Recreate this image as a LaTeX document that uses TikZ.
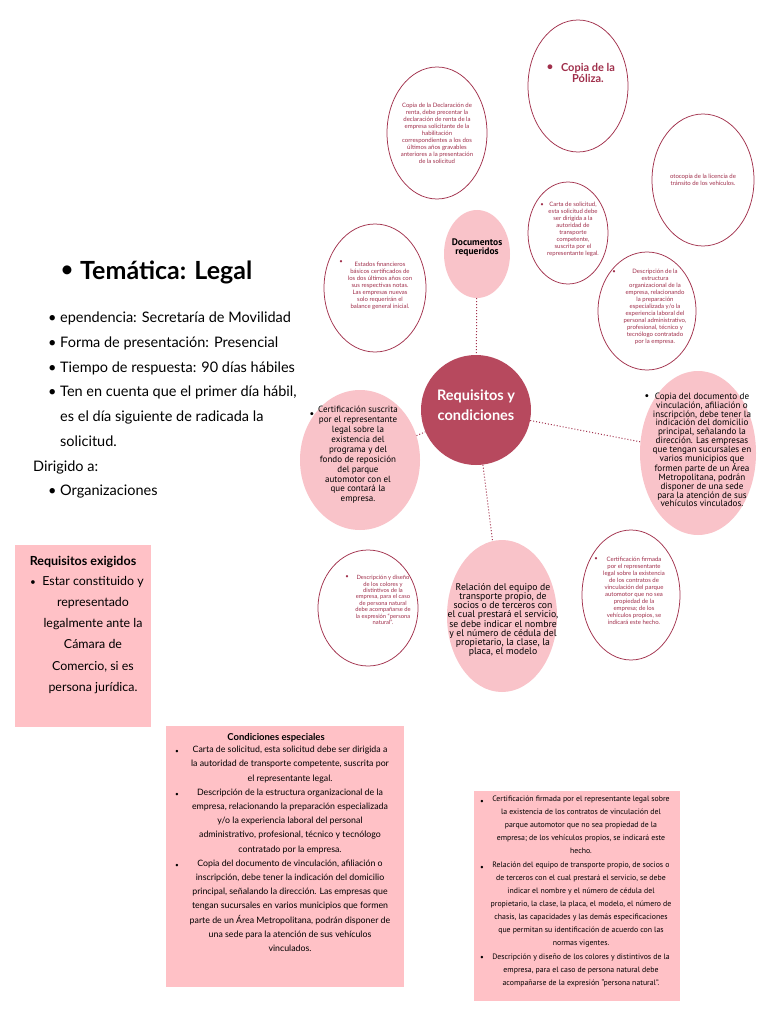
\documentclass[tikz,border=0pt]{standalone}
\usepackage{fontspec}
\setmainfont{Lato}
\newfontfamily\narrowf{PT Sans}
\usetikzlibrary{shapes.geometric}
\definecolor{rosedark}{HTML}{B7495E}
\definecolor{pinkfill}{HTML}{F9C3C9}
\definecolor{boxfill}{HTML}{FFC1C6}
\definecolor{lineR}{HTML}{A2324D}
\definecolor{txtR}{HTML}{A02F4B}
\newcommand\fsz[2]{\fontsize{#1}{#2}\selectfont}
\begin{document}
\begin{tikzpicture}[x=1pt,y=-1pt,
  outl/.style={ellipse,draw=lineR,line width=0.75pt,inner sep=0pt},
  fil/.style={ellipse,fill=pinkfill,inner sep=0pt},
  conn/.style={draw=lineR,line width=1pt,dotted},
  tinytxt/.style={text=txtR,align=center,inner sep=0pt,font=\fsz{6}{7}},
  tinybul/.style={text=txtR,inner sep=0pt,font=\fsz{6}{7}},
  midtxt/.style={text=black,align=center,inner sep=0pt,font=\narrowf\fsz{9.6}{9.6}},
  boxtxt/.style={align=center,inner sep=0pt},
  smallbul/.style={inner sep=0pt,font=\fsz{6.5}{7}},
  bigbox/.style={fill=boxfill,draw=none}
]
\useasboundingbox (0,0) rectangle (768,1024);
\fill[white] (0,0) rectangle (768,1024);

% ---------- ellipses ----------
\node[outl,minimum width=100pt,minimum height=132pt] (pol) at (578,86) {};
\node[outl,minimum width=100pt,minimum height=132pt] (dec) at (437,133) {};
\node[outl,minimum width=102pt,minimum height=132pt] (oto) at (703,180) {};
\node[outl,minimum width=80pt,minimum height=102pt] (car) at (568,233) {};
\node[fil,minimum width=66pt,minimum height=88pt] (doc) at (477,254) {};
\node[outl,minimum width=102pt,minimum height=128pt] (est) at (375,288) {};
\node[outl,minimum width=98pt,minimum height=118pt] (des) at (647,311) {};
\node[circle,fill=rosedark,minimum size=110pt,inner sep=0pt] (req) at (476,410) {};
\node[fil,minimum width=120pt,minimum height=140pt] (cs) at (360,460) {};
\node[fil,minimum width=116pt,minimum height=164pt] (cd) at (698,453) {};
\node[outl,minimum width=100pt,minimum height=116pt] (dis) at (368,608) {};
\node[fil,minimum width=110pt,minimum height=152pt] (rel) at (502,616) {};
\node[outl,minimum width=98pt,minimum height=130pt] (cf) at (631,595) {};

% ---------- connectors ----------
\draw[conn] (doc) -- (req);
\draw[conn] (cs) -- (req);
\draw[conn] (req) -- (rel);
\draw[conn] (req) -- (cd);

% ---------- ellipse texts ----------
\node[text=txtR,inner sep=0pt,font=\fsz{11}{11}\bfseries] (polb) at (550,68) {•};
\node[text=txtR,align=center,inner sep=0pt,font=\fsz{11}{11}\bfseries] (polt) at (588,73) {Copia de la\\Póliza.};

\node[tinytxt] (dect) at (437,133) {Copia de la Declaración de\\renta, debe precentar la\\declaración de renta de la\\empresa solicitante de la\\habilitación\\correspondientes a los dos\\últimos años gravables\\anteriores a la presentación\\de la solicitud};

\node[tinytxt] (otot) at (703,180) {otocopia de la licencia de\\tránsito de los vehículos.};

\node[tinybul] (carb) at (542,205) {•};
\node[tinytxt] (cart) at (573,229) {Carta de solicitud,\\esta solicitud debe\\ser dirigida a la\\autoridad de\\transporte\\competente,\\suscrita por el\\representante legal.};

\node[align=center,inner sep=0pt,font=\narrowf\bfseries\fsz{9.5}{9}] (doct) at (477,248) {Documentos\\requeridos};

\node[tinybul] (estb) at (341,262) {•};
\node[tinytxt] (estt) at (380,286) {Estados financieros\\básicos certificados de\\los dos últimos años con\\sus respectivas notas.\\Las empresas nuevas\\solo requerirán el\\balance general inicial.};

\node[tinybul] (desb) at (614,272) {•};
\node[tinytxt] (dest) at (655,307) {Descripción de la\\estructura\\organizacional de la\\empresa, relacionando\\la preparación\\especializada y/o la\\experiencia laboral del\\personal administrativo,\\profesional, técnico y\\tecnólogo contratado\\por la empresa.};

\node[text=white,align=center,inner sep=0pt,font=\bfseries\fsz{14.5}{20}] (reqt) at (476,405) {Requisitos y\\condiciones};

\node[inner sep=0pt,font=\fsz{8}{8}] (csb) at (312,415) {•};
\node[midtxt,font=\narrowf\fsz{9}{9.9}] (cst) at (358,455) {Certificación suscrita\\por el representante\\legal sobre la\\existencia del\\programa y del\\fondo de reposición\\del parque\\automotor con el\\que contará la\\empresa.};

\node[inner sep=0pt,font=\fsz{8}{8}] (cdb) at (647,397) {•};
\node[midtxt,font=\narrowf\fsz{9.1}{8.8}] (cdt) at (702,450) {Copia del documento de\\vinculación, afiliación o\\inscripción, debe tener la\\indicación del domicilio\\principal, señalando la\\dirección. Las empresas\\que tengan sucursales en\\varios municipios que\\formen parte de un Área\\Metropolitana, podrán\\disponer de una sede\\para la atención de sus\\vehículos vinculados.};

\node[tinybul] (disb) at (347,577) {•};
\node[tinytxt,font=\fsz{5.8}{6.4}] (dist) at (383,600) {Descripción y diseño\\de los colores y\\distintivos de la\\empresa, para el caso\\de persona natural\\debe acompañarse de\\la expresión “persona\\natural”.};

\node[midtxt,font=\narrowf\fsz{9.7}{9.2}] (relt) at (503,620) {Relación del equipo de\\transporte propio, de\\socios o de terceros con\\el cual prestará el servicio,\\se debe indicar el nombre\\y el número de cédula del\\propietario, la clase, la\\placa, el modelo};

\node[tinybul] (cfb) at (596,559) {•};
\node[tinytxt] (cft) at (634,591) {Certificación firmada\\por el representante\\legal sobre la existencia\\de los contratos de\\vinculación del parque\\automotor que no sea\\propiedad de la\\empresa; de los\\vehículos propios, se\\indicará este hecho.};

% ---------- left text ----------
\node[inner sep=0pt,font=\fsz{24}{26}] (temab) at (67,272) {•};
\node[anchor=west,inner sep=0pt,font=\bfseries\fsz{25}{28}] (tema) at (80,272) {Temática: Legal};
\node[anchor=north west,align=left,inner sep=0pt,font=\fsz{14.5}{24.7}] (info) at (33,312)
 {\hspace*{15pt}\makebox[12pt][l]{•}ependencia: Secretaría de Movilidad\\
  \hspace*{15pt}\makebox[12pt][l]{•}Forma de presentación: Presencial\\
  \hspace*{15pt}\makebox[12pt][l]{•}Tiempo de respuesta: 90 días hábiles\\
  \hspace*{15pt}\makebox[12pt][l]{•}Ten en cuenta que el primer día hábil,\\
  \hspace*{27pt}es el día siguiente de radicada la\\
  \hspace*{27pt}solicitud.\\
  Dirigido a:\\
  \hspace*{15pt}\makebox[12pt][l]{•}Organizaciones};

% ---------- Requisitos exigidos ----------
\node[bigbox,anchor=north west,minimum width=136pt,minimum height=182pt,inner sep=0pt] (rex) at (15,545) {};
\node[inner sep=0pt,font=\bfseries\fsz{12.5}{14}] (rexh) at (83,562) {Requisitos exigidos};
\node[inner sep=0pt,font=\fsz{10}{10}] (rexb) at (33,583) {•};
\node[boxtxt,anchor=north,font=\fsz{12.4}{21.2}] (rext) at (93,576) {Estar constituido y\\representado\\legalmente ante la\\Cámara de\\Comercio, si es\\persona jurídica.};

% ---------- Condiciones especiales ----------
\node[bigbox,anchor=north west,minimum width=238pt,minimum height=261pt,inner sep=0pt] (cond) at (166,726) {};
\node[inner sep=0pt,font=\bfseries\fsz{9.5}{10}] (condh) at (276,738) {Condiciones especiales};
\node[smallbul] (cb1) at (177,752) {•};
\node[smallbul] (cb2) at (177,795) {•};
\node[smallbul] (cb3) at (177,866) {•};
\node[boxtxt,anchor=north,font=\fsz{8.8}{14.2}] (condt) at (290,746) {Carta de solicitud, esta solicitud debe ser dirigida a\\la autoridad de transporte competente, suscrita por\\el representante legal.\\Descripción de la estructura organizacional de la\\empresa, relacionando la preparación especializada\\y/o la experiencia laboral del personal\\administrativo, profesional, técnico y tecnólogo\\contratado por la empresa.\\Copia del documento de vinculación, afiliación o\\inscripción, debe tener la indicación del domicilio\\principal, señalando la dirección. Las empresas que\\tengan sucursales en varios municipios que formen\\parte de un Área Metropolitana, podrán disponer de\\una sede para la atención de sus vehículos\\vinculados.};

% ---------- right box ----------
\node[bigbox,anchor=north west,minimum width=206pt,minimum height=210pt,inner sep=0pt] (rbox) at (474,791) {};
\node[smallbul] (rb1) at (482,802) {•};
\node[smallbul] (rb2) at (482,868) {•};
\node[smallbul] (rb3) at (482,958) {•};
\node[boxtxt,anchor=north,font=\narrowf\fsz{7.8}{13.15}] (rboxt) at (581,795.5) {Certificación firmada por el representante legal sobre\\la existencia de los contratos de vinculación del\\parque automotor que no sea propiedad de la\\empresa; de los vehículos propios, se indicará este\\hecho.\\Relación del equipo de transporte propio, de socios o\\de terceros con el cual prestará el servicio, se debe\\indicar el nombre y el número de cédula del\\propietario, la clase, la placa, el modelo, el número de\\chasis, las capacidades y las demás especificaciones\\que permitan su identificación de acuerdo con las\\normas vigentes.\\Descripción y diseño de los colores y distintivos de la\\empresa, para el caso de persona natural debe\\acompañarse de la expresión “persona natural”.};
\end{tikzpicture}
\end{document}
